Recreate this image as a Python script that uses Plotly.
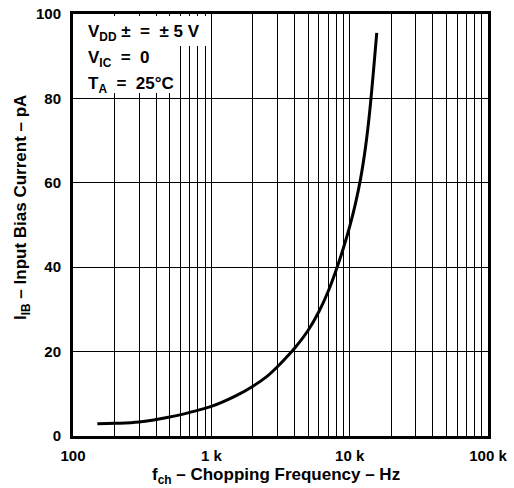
import plotly.graph_objects as go

# Data
freq_hz = [150, 200, 300, 500, 700, 1000, 1500, 2000, 2500, 3000, 3500, 4000,
           5000, 6000, 7000, 8000, 9000, 10000, 11000, 12000, 13000, 14000,
           15000, 15700]
ib_pa = [2.9, 3.0, 3.3, 4.5, 5.6, 7.0, 9.5, 11.8, 14.0, 16.4, 18.7, 20.8,
         25.0, 29.5, 34.3, 39.4, 44.5, 49.6, 55.0, 61.0, 68.3, 77.3,
         88.0, 95.5]

x_major_vals = [100, 1000, 10000, 100000]
x_major_text = ["100", "1 k", "10 k", "100 k"]
x_minor_vals = [m * 10 ** e for e in (2, 3, 4) for m in range(2, 10)]
y_tick_vals = [0, 20, 40, 60, 80, 100]

notes = ["V<sub>DD</sub> ±  =  ± 5 V", "V<sub>IC</sub>  =  0", "T<sub>A</sub>  =  25°C"]

FONT = "Liberation Sans, Arial, Helvetica, sans-serif"

fig = go.Figure()
fig.add_trace(go.Scatter(
    x=freq_hz, y=ib_pa, mode="lines",
    line=dict(color="black", width=3, shape="spline", smoothing=1.0),
    showlegend=False, hoverinfo="skip",
))

fig.update_layout(
    width=514, height=488,
    margin=dict(l=73, r=26, t=14, b=52, autoexpand=False),
    paper_bgcolor="white", plot_bgcolor="white",
    font=dict(family=FONT, size=15, color="black", weight="bold"),
    xaxis=dict(
        type="log", range=[2, 5],
        tickmode="array", tickvals=x_major_vals, ticktext=x_major_text,
        showgrid=True, gridcolor="black", gridwidth=1,
        minor=dict(tickmode="array", tickvals=x_minor_vals, showgrid=True,
                   gridcolor="black", gridwidth=1, ticks=""),
        showline=True, linecolor="black", linewidth=3, mirror=True,
        ticks="", zeroline=False, ticklabelstandoff=4,
        tickfont=dict(family=FONT, size=15, color="black", weight="bold"),
    ),
    yaxis=dict(
        range=[0, 100], tickmode="array", tickvals=y_tick_vals,
        showgrid=True, gridcolor="black", gridwidth=1,
        showline=True, linecolor="black", linewidth=3, mirror=True,
        ticks="", zeroline=False, ticklabelstandoff=6,
        tickfont=dict(family=FONT, size=15, color="black", weight="bold"),
    ),
)

# White boxes behind the condition text (cover gridlines)
fig.add_shape(type="rect", xref="paper", yref="paper",
              x0=0.006, x1=0.326, y0=0.924, y1=0.995,
              fillcolor="white", line=dict(width=0), layer="above")
fig.add_shape(type="rect", xref="paper", yref="paper",
              x0=0.006, x1=0.252, y0=0.813, y1=0.93,
              fillcolor="white", line=dict(width=0), layer="above")

for i, t in enumerate(notes):
    fig.add_annotation(
        text=t, xref="paper", yref="paper",
        x=13 / 415, y=(436 - (33 + 26 * i)) / 422,
        xanchor="left", yanchor="middle", showarrow=False,
        font=dict(family=FONT, size=17, color="black", weight="bold"),
    )

fig.add_annotation(
    text="f<sub>ch</sub> – Chopping Frequency – Hz",
    xref="paper", yref="paper", x=(276 - 73) / 415, y=-(476 - 436) / 422,
    xanchor="center", yanchor="middle", showarrow=False,
    font=dict(family=FONT, size=17, color="black", weight="bold"),
)
fig.add_annotation(
    text="I<sub>IB</sub> – Input Bias Current – pA",
    xref="paper", yref="paper", x=-(73 - 22) / 415, y=(436 - 208) / 422,
    xanchor="center", yanchor="middle", showarrow=False, textangle=-90,
    font=dict(family=FONT, size=17, color="black", weight="bold"),
)

fig.write_html("out.html", config={"displayModeBar": False},
               post_script="document.body.style.margin='0';")
